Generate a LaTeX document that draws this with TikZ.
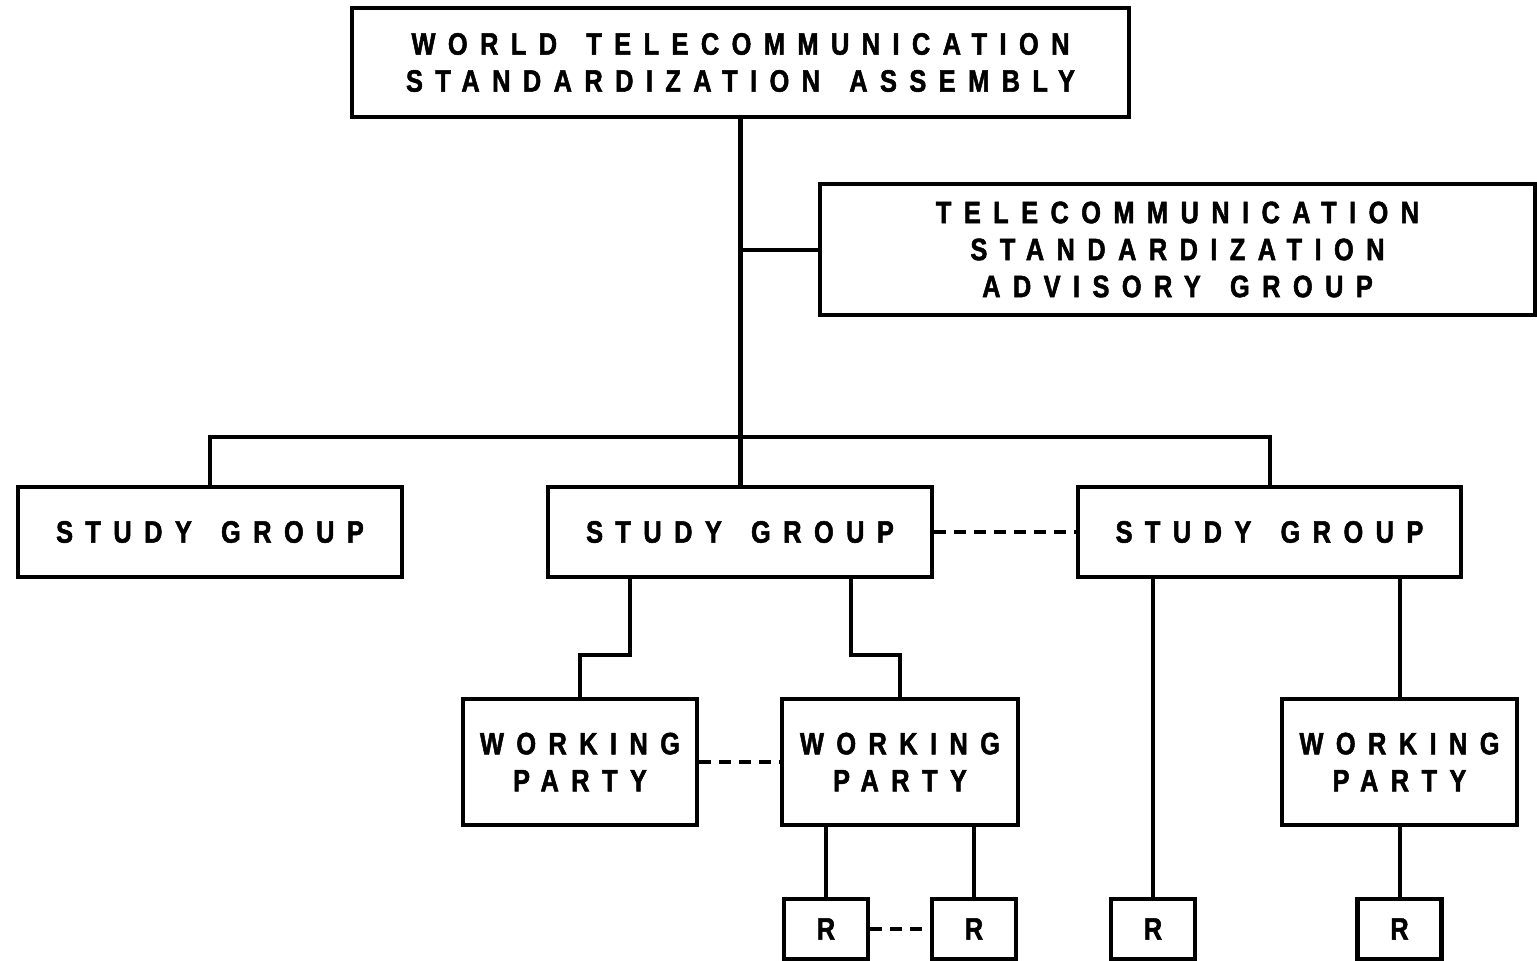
\documentclass[tikz,border=0pt]{standalone}
\usepackage{fontspec}
\newfontfamily\lbl{Liberation Sans Bold}[FakeStretch=0.82,LetterSpace=40,FakeBold=1.6,WordSpace=1.5]
\begin{document}
\begin{tikzpicture}[x=1pt,y=-1pt,
  box/.style={draw=black,line width=4.2pt,rectangle,inner sep=0pt,align=center,
    font=\lbl\fontsize{31}{37}\selectfont},
  conn/.style={draw=black,line width=4pt},
  mainconn/.style={draw=black,line width=5.5pt},
  dashconn/.style={draw=black,line width=4.5pt,dash pattern=on 12pt off 8pt}]
\useasboundingbox (0,0) rectangle (1537,961);
% boxes
\node[box,minimum width=777pt,minimum height=109pt] (wtsa) at (740.5,62.5)
  {WORLD TELECOMMUNICATION\\STANDARDIZATION ASSEMBLY};
\node[box,minimum width=715pt,minimum height=131pt] (tsag) at (1177.5,249.5)
  {TELECOMMUNICATION\\STANDARDIZATION\\ADVISORY GROUP};
\node[box,minimum width=384pt,minimum height=90pt] (sg1) at (210,532) {STUDY GROUP};
\node[box,minimum width=384pt,minimum height=90pt] (sg2) at (740,532) {STUDY GROUP};
\node[box,minimum width=383pt,minimum height=90pt] (sg3) at (1269.5,532) {STUDY GROUP};
\node[box,minimum width=234pt,minimum height=126pt] (wp1) at (580,762) {WORKING\\PARTY};
\node[box,minimum width=236pt,minimum height=126pt] (wp2) at (900,762) {WORKING\\PARTY};
\node[box,minimum width=235pt,minimum height=126pt] (wp3) at (1399.5,762) {WORKING\\PARTY};
\node[box,minimum width=84pt,minimum height=60pt] (r1) at (826,929) {R};
\node[box,minimum width=84pt,minimum height=60pt] (r2) at (974,929) {R};
\node[box,minimum width=84pt,minimum height=60pt] (r3) at (1153,929) {R};
\node[box,minimum width=84pt,minimum height=60pt] (r4) at (1399.5,929) {R};
% helper coordinates
\coordinate (bus) at (740,437);
\coordinate (k1) at (630,655);
\coordinate (k2) at (851,655);
% connectors
\draw[mainconn] (wtsa.south) -- (wtsa.south |- sg2.north);
\draw[conn] (tsag.west) -- (tsag.west -| wtsa.south);
\draw[conn] (sg1.north) -- (sg1.north |- bus) -- (sg3.north |- bus) -- (sg3.north);
\draw[conn] (sg2.south -| k1) -- (k1) -| (wp1.north);
\draw[conn] (sg2.south -| k2) -- (k2) -| (wp2.north);
\draw[conn] (sg3.south -| r3.north) -- (r3.north);
\draw[conn] (sg3.south -| wp3.north) -- (wp3.north);
\draw[conn] (wp3.south) -- (r4.north);
\draw[conn] (wp2.south -| r1.north) -- (r1.north);
\draw[conn] (wp2.south -| r2.north) -- (r2.north);
\draw[dashconn] (sg2.east) -- (sg3.west);
\draw[dashconn] (wp1.east) -- (wp2.west);
\draw[dashconn] (r1.east) -- (r2.west);
\end{tikzpicture}
\end{document}
